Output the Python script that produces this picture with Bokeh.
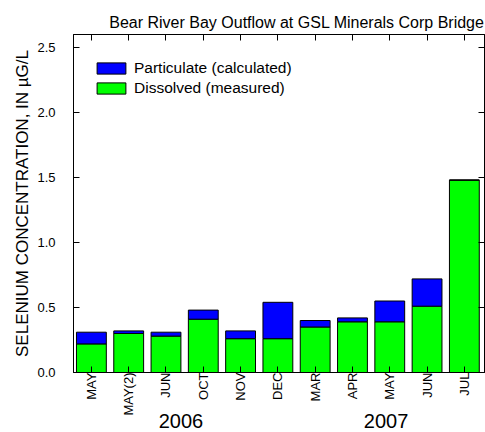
import numpy as np
from bokeh.plotting import figure
from bokeh.models import (LinearAxis, FixedTicker, Range1d, Legend, LegendItem,
                          Title, ColumnDataSource, CustomLabelingPolicy)
from bokeh.embed import file_html
from bokeh.resources import INLINE

# ---- data ----
months = ["MAY", "MAY(2)", "JUN", "OCT", "NOV", "DEC", "MAR", "APR", "MAY", "JUN", "JUL"]
years = ["2006", "2006", "2006", "2006", "2006", "2006", "2007", "2007", "2007", "2007", "2007"]
dissolved = [0.22, 0.30, 0.28, 0.41, 0.26, 0.26, 0.35, 0.39, 0.39, 0.51, 1.48]
particulate = [0.09, 0.02, 0.03, 0.07, 0.06, 0.28, 0.05, 0.03, 0.16, 0.21, 0.0]
y_ticks = [0.0, 0.5, 1.0, 1.5, 2.0, 2.5]

FONT = "Liberation Sans"

idx = list(range(len(months)))
total = [d + q for d, q in zip(dissolved, particulate)]
src = ColumnDataSource(dict(x=idx, d=dissolved, t=total))

p = figure(width=485, height=432, output_backend="svg", toolbar_location=None,
           x_range=Range1d(-0.48, 10.54), y_range=Range1d(0, 2.6),
           min_border_left=73, min_border_right=1, min_border_top=34, min_border_bottom=60,
           x_axis_location=None, y_axis_location=None)
p.grid.visible = False
p.outline_line_color = "black"
p.outline_line_width = 1
p.background_fill_color = "white"
p.border_fill_color = "white"

rg = p.vbar(x="x", bottom=0, top="d", width=0.8, source=src,
            fill_color="#00ff00", line_color="black", line_width=1)
rb = p.vbar(x="x", bottom="d", top="t", width=0.8, source=src,
            fill_color="#0000ff", line_color="black", line_width=1)

no_labels = CustomLabelingPolicy(code="return new Set()")

def style(ax, labels=True):
    ax.major_tick_in = 6
    ax.major_tick_out = 0
    ax.minor_tick_in = 0
    ax.minor_tick_out = 0
    ax.axis_line_color = "black"
    ax.major_tick_line_color = "black"
    ax.major_label_text_font = FONT
    ax.major_label_text_color = "black"
    if not labels:
        ax.major_label_text_font_size = "0px"
        ax.major_label_standoff = 0
        ax.major_label_policy = no_labels

# left axis
ly = LinearAxis(ticker=FixedTicker(ticks=y_ticks))
style(ly)
ly.major_label_overrides = {t: f"{t:.1f}" for t in y_ticks}
ly.major_label_text_font_size = "13px"
ly.major_label_standoff = 18
ly.axis_label = "SELENIUM CONCENTRATION, IN \u00b5G/L"
ly.axis_label_text_font = FONT
ly.axis_label_text_font_size = "17px"
ly.axis_label_text_font_style = "normal"
ly.axis_label_text_color = "black"
ly.axis_label_standoff = 2
p.add_layout(ly, "left")

# right axis
ry = LinearAxis(ticker=FixedTicker(ticks=y_ticks))
style(ry, labels=False)
p.add_layout(ry, "right")

# bottom axis (months)
bx = LinearAxis(ticker=FixedTicker(ticks=idx))
style(bx)
bx.major_label_overrides = {i: m for i, m in zip(idx, months)}
bx.major_label_orientation = np.pi / 2
bx.major_label_text_font_size = "13px"
bx.major_label_standoff = 0
p.add_layout(bx, "below")

# second bottom axis (years)
year_names = sorted(set(years))
year_pos = [float(np.mean([i for i, y in zip(idx, years) if y == yr])) - 0.1 for yr in year_names]
yx = LinearAxis(ticker=FixedTicker(ticks=year_pos))
yx.major_label_overrides = {pos: yr for pos, yr in zip(year_pos, year_names)}
yx.major_tick_in = 0
yx.major_tick_out = 0
yx.minor_tick_in = 0
yx.minor_tick_out = 0
yx.axis_line_color = None
yx.major_tick_line_color = None
yx.major_label_text_font = FONT
yx.major_label_text_font_size = "20px"
yx.major_label_text_color = "black"
yx.major_label_standoff = -5
p.add_layout(yx, "below")

# top axis
tx = LinearAxis(ticker=FixedTicker(ticks=idx))
style(tx, labels=False)
p.add_layout(tx, "above")

# title
t = Title(text="Bear River Bay Outflow at GSL Minerals Corp Bridge", align="right",
          text_font=FONT, text_font_size="16px", text_font_style="normal",
          text_color="black", standoff=8)
p.add_layout(t, "above")

legend = Legend(items=[LegendItem(label="Particulate (calculated)", renderers=[rb]),
                       LegendItem(label="Dissolved (measured)", renderers=[rg])],
                location=(20, 275), glyph_width=36, glyph_height=14, label_height=14,
                spacing=2, padding=0, margin=0, label_standoff=5,
                border_line_color=None, background_fill_alpha=0,
                label_text_font=FONT, label_text_font_size="15.5px",
                label_text_color="black")
p.add_layout(legend)

open("out.html", "w").write(file_html(p, INLINE))
